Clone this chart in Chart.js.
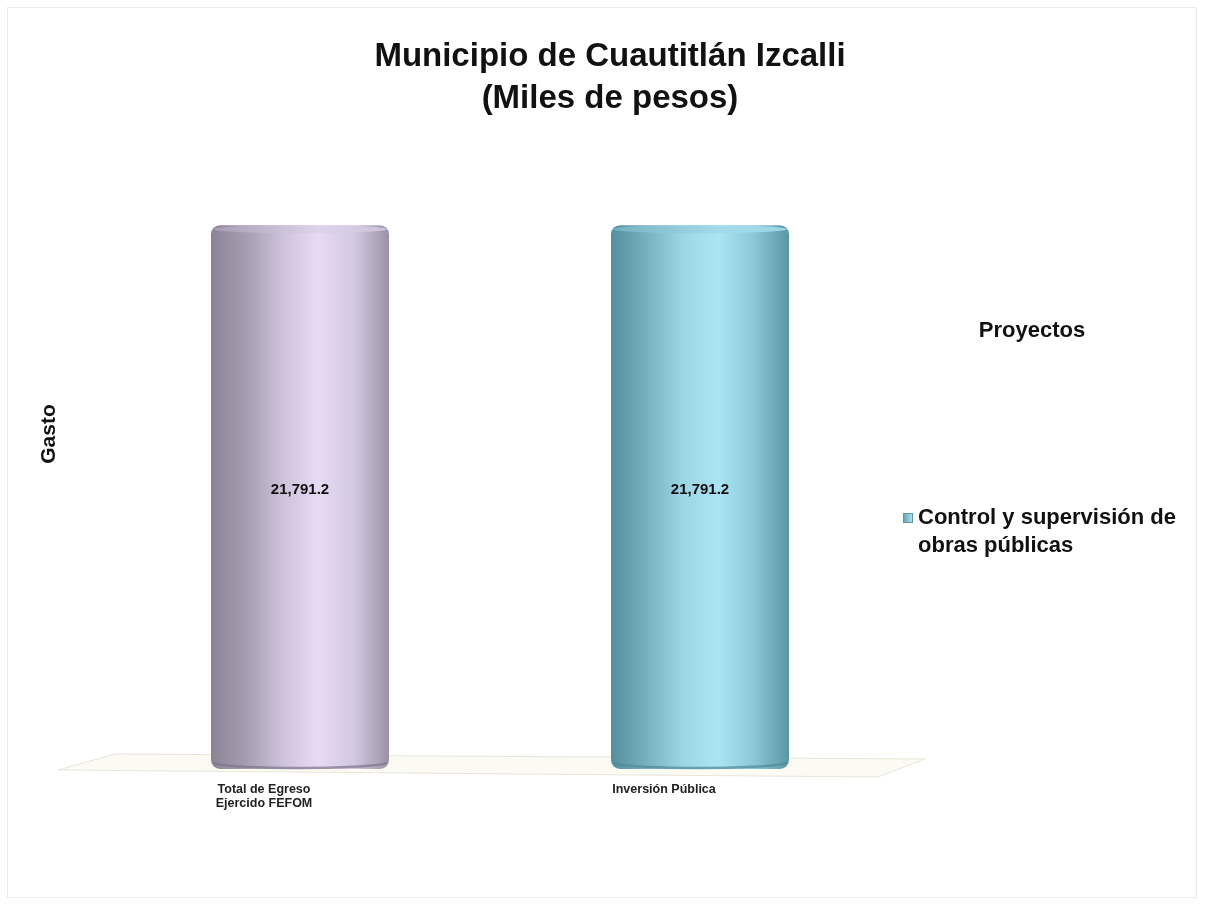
<!DOCTYPE html>
<html>
<head>
<meta charset="utf-8">
<script src="https://cdn.jsdelivr.net/npm/chart.js@4.4.1/dist/chart.umd.min.js"></script>
<style>
  html, body { margin: 0; padding: 0; background: #ffffff; }
  #wrap { position: relative; width: 1206px; height: 907px; overflow: hidden; }
  #frame { position: absolute; left: 7px; top: 7px; width: 1190px; height: 891px; border: 1px solid #ececec; box-sizing: border-box; pointer-events: none; }
  canvas { position: absolute; left: 0; top: 0; }
  #title { position: absolute; left: 260px; top: 34px; width: 700px; text-align: center;
    font: bold 33px "Liberation Sans", Arial, sans-serif; color: #111; line-height: 42px; }
  #ytitle { position: absolute; left: 48px; top: 434px; transform: translate(-50%, -50%) rotate(-90deg);
    font: bold 21px "Liberation Sans", Arial, sans-serif; color: #111; white-space: nowrap; }
  #legendTitle { position: absolute; left: 952px; top: 317px; width: 160px; text-align: center;
    font: bold 22px "Liberation Sans", Arial, sans-serif; color: #111; line-height: 26px; }
  #legend { position: absolute; left: 900px; top: 503px; width: 300px;
    font: bold 22px "Liberation Sans", Arial, sans-serif; color: #111; line-height: 28px; }
  #legend .row { display: flex; align-items: flex-start; }
  #legend .sw { width: 10px; height: 10px; margin: 10px 5px 0 3px; flex: none;
    background: linear-gradient(90deg, #6aa6b6, #a9e0ef); border: 1px solid #5f97a6; box-sizing: border-box; }
</style>
</head>
<body>
<div id="wrap">
  <canvas id="c" width="1206" height="907"></canvas>
  <div id="frame"></div>
  <div id="title"></div>
  <div id="ytitle"></div>
  <div id="legendTitle"></div>
  <div id="legend"></div>
</div>
<script>
// ---- data ----
const categories = [["Total de Egreso", "Ejercido FEFOM"], "Inversión Pública"];
const gastoValues = [21791.2, 21791.2];
const seriesName = "Control y supervisión de obras públicas";
const valueLabels = ["21,791.2", "21,791.2"];
const chartTitle = ["Municipio de Cuautitlán Izcalli", "(Miles de pesos)"];
const yAxisTitle = "Gasto";
const legendTitle = "Proyectos";

// colour stops (left → right) for each cylinder
const barStops = [
  ["#8b8395", "#a69db2", "#cdc2da", "#e6dbf3", "#d4c9e2", "#9b92a6"],
  ["#548f9d", "#77b1bf", "#9cd6e5", "#abe5f4", "#8bc9d8", "#5a96a4"]
];
const topColors = ["#ddd3ea", "#a2dbe9"];
const bottomColors = ["#7d7589", "#4f8997"];
const BAR_PCT = 0.89, CAT_PCT = 0.5;

document.getElementById('title').innerHTML = chartTitle.join('<br>');
document.getElementById('ytitle').textContent = yAxisTitle;
document.getElementById('legendTitle').textContent = legendTitle;
document.getElementById('legend').innerHTML =
  '<div class="row"><span class="sw"></span><span>' + seriesName.replace(' de obras', ' de<br>obras') + '</span></div>';

function barGradient(ctx) {
  const chart = ctx.chart;
  const xs = chart.scales && chart.scales.x;
  const s = barStops[ctx.dataIndex];
  if (!xs || !chart.chartArea) return s[3];
  const cx = xs.getPixelForValue(ctx.dataIndex);
  const half = (xs.width / categories.length) * CAT_PCT * BAR_PCT / 2;
  if (!isFinite(cx) || !isFinite(half)) return s[3];
  const g = chart.ctx.createLinearGradient(cx - half, 0, cx + half, 0);
  s.forEach((c, i) => g.addColorStop(i / (s.length - 1), c));
  return g;
}

const floorPlugin = {
  id: 'floor',
  beforeDatasetsDraw(chart) {
    const a = chart.chartArea, c = chart.ctx;
    c.save();
    c.beginPath();
    c.moveTo(a.left + 15, a.bottom - 15);
    c.lineTo(a.right + 25, a.bottom - 10);
    c.lineTo(a.right - 22, a.bottom + 8);
    c.lineTo(a.left - 42, a.bottom + 1);
    c.closePath();
    c.fillStyle = '#fbfbf4';
    c.fill();
    c.strokeStyle = '#e6e6da';
    c.lineWidth = 1;
    c.stroke();
    c.restore();
  }
};

const cylinderPlugin = {
  id: 'cylinder',
  afterDatasetsDraw(chart) {
    const c = chart.ctx;
    const meta = chart.getDatasetMeta(0);
    meta.data.forEach((el, i) => {
      const w = el.width, x = el.x;
      c.save();
      // bottom rim shading
      c.beginPath();
      c.ellipse(x, el.base - 7, w / 2 - 1, 6, 0, 0.15, Math.PI - 0.15);
      c.lineWidth = 2.5;
      c.strokeStyle = bottomColors[i];
      c.globalAlpha = 0.7;
      c.stroke();
      c.globalAlpha = 1;
      // top cap
      c.beginPath();
      c.ellipse(x, el.y + 4, w / 2 - 2, 4, 0, 0, Math.PI * 2);
      const g = c.createLinearGradient(x - w / 2, 0, x + w / 2, 0);
      g.addColorStop(0, barStops[i][1]);
      g.addColorStop(0.6, topColors[i]);
      g.addColorStop(1, barStops[i][2]);
      c.fillStyle = g;
      c.fill();
      // value label
      c.fillStyle = '#111';
      c.font = 'bold 15px "Liberation Sans", Arial, sans-serif';
      c.textAlign = 'center';
      c.textBaseline = 'middle';
      c.fillText(valueLabels[i], x, (el.y + el.base) / 2 - 7);
      c.restore();
    });
  }
};

new Chart(document.getElementById('c'), {
  type: 'bar',
  data: {
    labels: categories,
    datasets: [{
      label: seriesName,
      data: gastoValues,
      backgroundColor: barGradient,
      borderWidth: 0,
      borderRadius: 9,
      borderSkipped: false,
      barPercentage: BAR_PCT,
      categoryPercentage: CAT_PCT
    }]
  },
  options: {
    responsive: false,
    animation: false,
    layout: { padding: { left: 100, right: 306, top: 210, bottom: 82 } },
    plugins: {
      legend: { display: false },
      tooltip: { enabled: false },
      title: { display: false }
    },
    scales: {
      x: {
        grid: { display: false, drawTicks: false },
        border: { display: false },
        ticks: {
          color: '#222',
          padding: 14,
          labelOffset: -36,
          maxRotation: 0,
          font: { family: '"Liberation Sans Narrow", "Liberation Sans", Arial, sans-serif', size: 12.5, weight: 'bold', lineHeight: '14px' }
        }
      },
      y: {
        display: false,
        min: 0,
        max: 22400,
        grid: { display: false }
      }
    }
  },
  plugins: [floorPlugin, cylinderPlugin]
});
</script>
</body>
</html>
